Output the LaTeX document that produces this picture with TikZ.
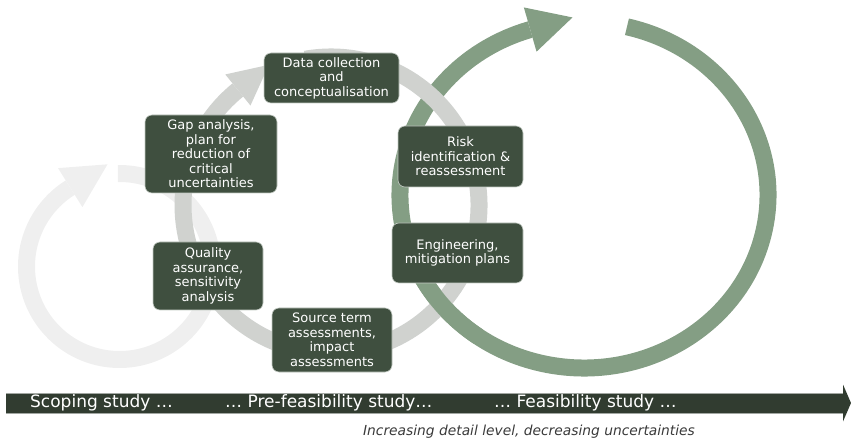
\documentclass[tikz,border=0pt]{standalone}
\usepackage{fontspec}
\setmainfont{DejaVu Sans}
\usepackage{tikz}
\usetikzlibrary{arrows.meta,calc}

\definecolor{boxfill}{HTML}{3F4F3F}
\definecolor{boxedge}{HTML}{C4CBC4}
\definecolor{ringgreen}{HTML}{849E84}
\definecolor{ringgrey}{HTML}{D0D2CF}
\definecolor{ringlight}{HTML}{EFEFEF}
\definecolor{barfill}{HTML}{313C30}
\definecolor{notecol}{HTML}{3A3A3A}

\begin{document}
\begin{tikzpicture}[x=1pt,y=1pt,
  step_box/.style={draw=boxedge,line width=0.6pt,fill=boxfill,rounded corners=7pt,text=white,align=center,inner sep=0pt,font=\fontsize{13}{14.5}\selectfont},
  ring/.style={line width=17pt},
  bar_text/.style={anchor=west,inner sep=0pt,text=white,font=\fontsize{17}{17}\selectfont}]

    \useasboundingbox (0,0) rectangle (851,442);

    % scoping loop
    \coordinate (c1) at (119.5,175.5);
    \draw[ring,ringlight] ($(c1)+(91:93)$) arc[start angle=91,end angle=-238,radius=93];
    \fill[ringlight,shift={($(c1)+(122:93)$)},rotate=32] (0,23) -- (44,0) -- (0,-23) -- cycle;

    % feasibility loop
    \coordinate (c3) at (584,247);
    \draw[ring,ringgreen] ($(c3)+(76.5:184 and 173)$) arc[start angle=76.5,end angle=-253,x radius=184,y radius=173];
    \fill[ringgreen,shift={($(c3)+(107:184 and 173)$)},rotate=16] (0,23) -- (44,0) -- (0,-23) -- cycle;

    % pre-feasibility loop
    \coordinate (c2) at (331,237);
    \draw[ring,ringgrey] ($(c2)+(100:148)$) arc[start angle=100,end angle=-231,radius=148];
    \fill[ringgrey,shift={($(c2)+(129:148)$)},rotate=39] (0,20) -- (40,0) -- (0,-20) -- cycle;

    % green over grey at the lower crossing
    \draw[ring,ringgreen] ($(c3)+(-125:184 and 173)$) arc[start angle=-125,end angle=-160,x radius=184,y radius=173];

    \node[step_box,minimum width=135pt,minimum height=50pt] (data) at (331.5,364) {Data collection\\and\\conceptualisation};
    \node[step_box,minimum width=132pt,minimum height=78pt] (gap) at (211,288) {Gap analysis,\\plan for\\reduction of\\critical\\uncertainties};
    \node[step_box,minimum width=125pt,minimum height=61pt] (risk) at (460.5,285.5) {Risk\\identification \&\\reassessment};
    \node[step_box,minimum width=131pt,minimum height=60pt] (eng) at (457.5,189) {Engineering,\\mitigation plans};
    \node[step_box,minimum width=110pt,minimum height=68pt] (qa) at (208,166) {Quality\\assurance,\\sensitivity\\analysis};
    \node[step_box,minimum width=120pt,minimum height=64pt] (source) at (332,102) {Source term\\assessments,\\impact\\assessments};

    % time line
    \coordinate (t0) at (6,39);
    \coordinate (t1) at (851,39);
    \draw[line width=20pt,barfill,-{Triangle[length=8pt,width=37pt,line width=0pt]}] (t0) -- (t1);
    \draw[barfill!45!white,line width=0.6pt] ($(t0)+(0,10)$) -- ($(t1)+(-8,10)$);
    \draw[barfill!45!white,line width=0.6pt] ($(t0)+(0,-10)$) -- ($(t1)+(-8,-10)$);

    \node[bar_text] (scoping) at (30,39) {Scoping study …};
    \node[bar_text] (prefeas) at (225,39) {… Pre-feasibility study…};
    \node[bar_text] (feas) at (494,39) {… Feasibility study …};
    \node[text=notecol,inner sep=0pt,font=\fontsize{13.8}{14}\selectfont\itshape] (note) at (529,10) {Increasing detail level, decreasing uncertainties};
\end{tikzpicture}
\end{document}
